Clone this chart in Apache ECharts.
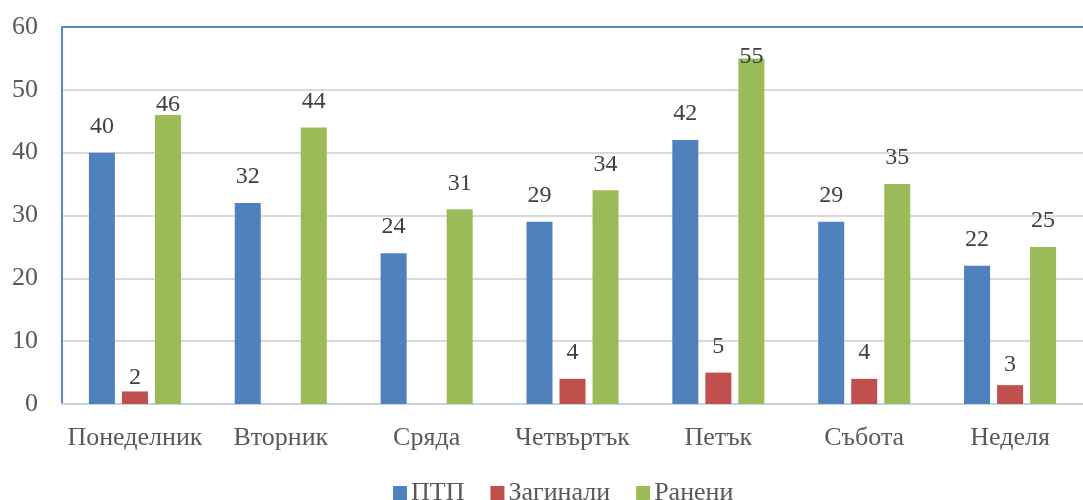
<!DOCTYPE html>
<html>
<head>
<meta charset="utf-8">
<script src="https://cdn.jsdelivr.net/npm/echarts@6/dist/echarts.min.js"></script>
<style>
html,body{margin:0;padding:0;background:#fff;}
#chart{width:1083px;height:500px;}
</style>
</head>
<body>
<div id="chart"></div>
<script>
const categories = ['Понеделник','Вторник','Сряда','Четвъртък','Петък','Събота','Неделя'];
const ptp = [40, 32, 24, 29, 42, 29, 22];
const killed = [2, null, null, 4, 5, 4, 3];
const injured = [46, 44, 31, 34, 55, 35, 25];
const yTicks = [0, 10, 20, 30, 40, 50, 60];

const FONT = '"Liberation Serif", "Times New Roman", serif';
const baseDist = 14;
// label distance overrides (series index -> category index -> distance)
const nudge = {1: {0: 2, 6: 8}, 2: {0: -2, 4: -10}};

function mk(vals, si) {
  return vals.map((v, i) => {
    if (v === null) return '-';
    const d = (nudge[si] && nudge[si][i] !== undefined) ? nudge[si][i] : baseDist;
    return {value: v, label: {distance: d}};
  });
}

const colors = ['#4f81bd', '#c0504d', '#9bbb59'];
const names = ['ПТП', 'Загинали', 'Ранени'];
const seriesVals = [ptp, killed, injured];

const chart = echarts.init(document.getElementById('chart'), null, {renderer: 'canvas'});
chart.setOption({
  animation: false,
  grid: {left: 62, top: 27, width: 1030, height: 377, containLabel: false},
  legend: {
    left: 388, top: 475,
    itemWidth: 14, itemHeight: 14, itemGap: 26,
    icon: 'rect',
    textStyle: {fontFamily: FONT, fontSize: 26, color: '#595959', padding: [0,0,0,-1]},
    data: names
  },
  xAxis: [{
    type: 'category', data: categories, position: 'bottom',
    axisLine: {lineStyle: {color: '#c8d3e2', width: 2}},
    axisTick: {show: false},
    axisLabel: {fontFamily: FONT, fontSize: 26, color: '#595959', margin: 21, interval: 0}
  }, {
    type: 'category', data: categories, position: 'top',
    axisLine: {lineStyle: {color: '#5b8bc7', width: 2}},
    axisTick: {show: false}, axisLabel: {show: false}
  }],
  yAxis: {
    type: 'value', min: yTicks[0], max: yTicks[yTicks.length-1], interval: 10,
    axisLine: {show: true, lineStyle: {color: '#5b8bc7', width: 2}},
    axisTick: {show: false},
    splitLine: {lineStyle: {color: '#d9d9d9', width: 2}},
    axisLabel: {fontFamily: FONT, fontSize: 26, color: '#595959', margin: 24}
  },
  series: seriesVals.map((vals, si) => ({
    name: names[si], type: 'bar', xAxisIndex: 0,
    barWidth: 26, barGap: '27%',
    itemStyle: {color: colors[si]},
    label: {show: true, position: 'top', fontFamily: FONT, fontSize: 24, color: '#404040'},
    data: mk(vals, si)
  }))
});
</script>
</body>
</html>
